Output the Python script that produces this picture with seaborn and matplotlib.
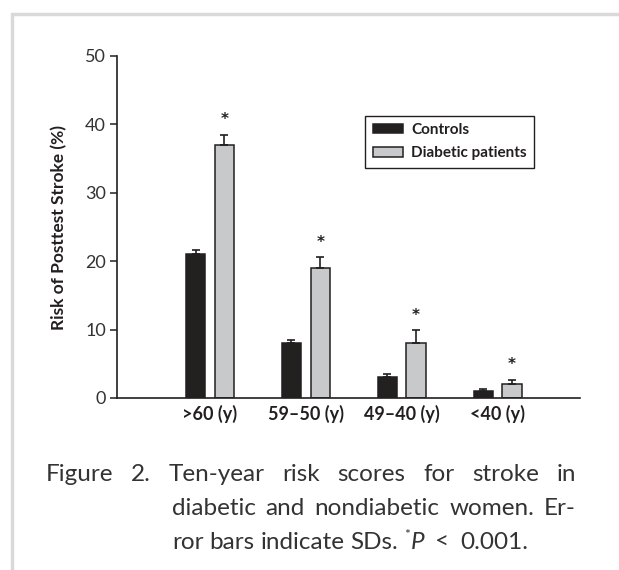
import numpy as np
import pandas as pd
import seaborn as sns
import matplotlib.pyplot as plt
from matplotlib.lines import Line2D

# values
age_groups = [">60 (y)", "59–50 (y)", "49–40 (y)", "<40 (y)"]
controls = [21, 8, 3, 1]
controls_sd = [0.6, 0.5, 0.5, 0.3]
diabetic = [37, 19, 8, 2]
diabetic_sd = [1.5, 1.6, 1.9, 0.7]
series = ["Controls", "Diabetic patients"]
yticks = [0, 10, 20, 30, 40, 50]

ink = "#231f20"
txt = "#333333"

sns.set_style("ticks")
plt.rcParams["font.family"] = ["Lato", "DejaVu Sans"]

df = pd.DataFrame({
    "age": age_groups * 2,
    "risk": controls + diabetic,
    "group": [series[0]] * 4 + [series[1]] * 4,
})

W, H = 619, 570
fig = plt.figure(figsize=(W / 100, H / 100), dpi=100)
ax = fig.add_axes([117 / W, 1 - 398 / H, (580 - 117) / W, (398 - 56) / H])

sns.barplot(data=df, x="age", y="risk", hue="group", order=age_groups,
            hue_order=series, palette=[ink, "#c8c9cb"], width=0.6, gap=0.33,
            errorbar=None, edgecolor=ink, linewidth=1.1, ax=ax)

# upper-only SD bars + significance stars
for i, (cont, vals, sds) in enumerate(zip(ax.containers, [controls, diabetic],
                                          [controls_sd, diabetic_sd])):
    xs = [b.get_x() + b.get_width() / 2 for b in cont]
    ax.errorbar(xs, vals, yerr=[np.zeros(len(vals)), sds], fmt="none",
                ecolor=ink, elinewidth=1.2, capsize=3, capthick=1.2, zorder=1)
    if i == 1:
        for x, v, s in zip(xs, vals, sds):
            ax.text(x, v + s + 1.5, "*", ha="center", va="baseline",
                    fontsize=11, fontweight="bold", color=ink,
                    family="DejaVu Sans")

ax.set_xlim(-0.97, 3.86)
ax.set_ylim(0, 50)
ax.set_yticks(yticks)
ax.set_xlabel("")
ax.set_ylabel("Risk of Posttest Stroke (%)", fontsize=12.5, fontweight="bold", color=ink)
ax.yaxis.set_label_coords(-0.108, 0.5)
ax.tick_params(axis="y", length=5, width=1.1, color=ink, labelsize=13, labelcolor=txt, pad=3)
ax.tick_params(axis="x", length=0, labelsize=13, labelcolor=ink, pad=5)
for lab in ax.get_xticklabels():
    lab.set_fontweight("bold")
for s in ["left", "bottom"]:
    ax.spines[s].set_color(ink)
    ax.spines[s].set_linewidth(1.2)
sns.despine(ax=ax)

sns.move_legend(ax, "upper left", bbox_to_anchor=(0.536, 0.826), title=None,
                frameon=True, fancybox=False, edgecolor=ink, framealpha=1,
                prop={"weight": "bold", "size": 11}, handlelength=1.95,
                handleheight=0.55, handletextpad=0.55, labelspacing=0.6,
                borderpad=0.5, borderaxespad=0)
leg = ax.get_legend()
leg.get_frame().set_linewidth(1.0)
for t in leg.get_texts():
    t.set_color(ink)

# grey frame of the page (top-left corner)
fig.add_artist(Line2D([12 / W, 1], [1 - 14 / H] * 2, transform=fig.transFigure,
                      color="#d9d9d9", lw=2.5))
fig.add_artist(Line2D([12 / W] * 2, [0, 1 - 14 / H], transform=fig.transFigure,
                      color="#d9d9d9", lw=2.5))

# caption, justified word by word
renderer = fig.canvas.get_renderer()
cap_size = 17.5


def place_words(words, x0, x1, base_y):
    items = [fig.text(0, 1 - base_y / H, w, fontsize=cap_size, color=txt,
                      va="baseline", ha="left") for w in words]
    widths = [t.get_window_extent(renderer).width for t in items]
    space = (x1 - x0 - sum(widths)) / (len(items) - 1)
    x = x0
    for t, wd in zip(items, widths):
        t.set_x(x / W)
        x += wd + space


place_words(["Figure", "2.", "Ten-year", "risk", "scores", "for", "stroke", "in"],
            46, 576, 481)
place_words(["diabetic", "and", "nondiabetic", "women.", "Er-"], 172, 576, 515)

# last line: left aligned, with superscript star and italic P
x = 172
y3 = 549
for piece in ["ror", "bars", "indicate", "SDs."]:
    t = fig.text(x / W, 1 - y3 / H, piece, fontsize=cap_size, color=txt, va="baseline")
    x += t.get_window_extent(renderer).width + 6
t = fig.text(x / W, 1 - (y3 - 10) / H, "*", fontsize=10, color=txt, va="baseline")
x += t.get_window_extent(renderer).width + 0.5
t = fig.text(x / W, 1 - y3 / H, "P", fontsize=cap_size, color=txt, va="baseline",
             style="italic")
x += t.get_window_extent(renderer).width + 11
t = fig.text(x / W, 1 - y3 / H, "<", fontsize=cap_size, color=txt, va="baseline")
x += t.get_window_extent(renderer).width + 11
fig.text(x / W, 1 - y3 / H, "0.001.", fontsize=cap_size, color=txt, va="baseline")

fig.savefig("out.png", dpi=100)
